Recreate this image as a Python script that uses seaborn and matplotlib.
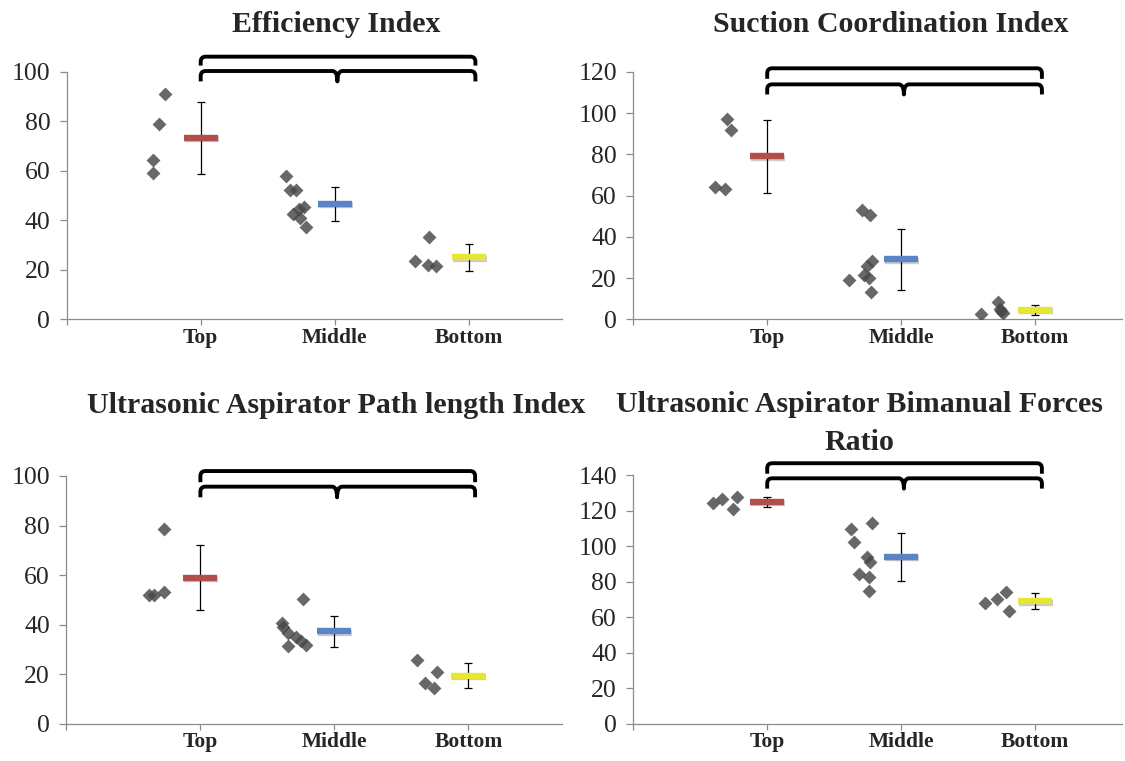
import numpy as np
import pandas as pd
import matplotlib
matplotlib.use("Agg")
import matplotlib.pyplot as plt
import matplotlib.transforms as mtransforms
from matplotlib.path import Path
from matplotlib.patches import PathPatch
import seaborn as sns

# ---------------- data ----------------
categories = ["Top", "Middle", "Bottom"]
cat_pos = [1, 2, 3]
mean_colors = ["#b04f4b", "#5b84c4", "#e6e633"]

titles = ["Efficiency Index", "Suction Coordination Index",
          "Ultrasonic Aspirator Path length Index",
          "Ultrasonic Aspirator Bimanual Forces\nRatio"]

# Efficiency Index
eff_top_x = [0.734, 0.686, 0.646, 0.641]
eff_top_y = [91.0, 79.1, 64.3, 59.2]
eff_mid_x = [1.633, 1.665, 1.713, 1.772, 1.735, 1.692, 1.740, 1.788]
eff_mid_y = [57.8, 52.3, 52.2, 45.3, 44.7, 42.6, 41.1, 37.5]
eff_bot_x = [2.706, 2.602, 2.693, 2.754]
eff_bot_y = [33.2, 23.5, 22.0, 21.6]

# Suction Coordination Index
suc_top_x = [0.698, 0.733, 0.611, 0.687]
suc_top_y = [97.0, 91.7, 64.4, 63.1]
suc_mid_x = [1.710, 1.769, 1.783, 1.748, 1.724, 1.756, 1.608, 1.777]
suc_mid_y = [53.0, 50.8, 28.5, 25.9, 21.3, 20.2, 19.1, 13.4]
suc_bot_x = [2.596, 2.725, 2.737, 2.745, 2.757]
suc_bot_y = [2.4, 8.6, 5.0, 3.8, 3.0]

# Ultrasonic Aspirator Path length Index
pth_top_x = [0.730, 0.618, 0.655, 0.730]
pth_top_y = [78.5, 51.8, 51.8, 53.3]
pth_mid_x = [1.764, 1.609, 1.617, 1.657, 1.716, 1.651, 1.751, 1.791]
pth_mid_y = [50.5, 40.5, 38.9, 36.5, 34.9, 31.4, 33.2, 31.9]
pth_bot_x = [2.614, 2.768, 2.675, 2.742]
pth_bot_y = [25.7, 21.0, 16.3, 14.3]

# Ultrasonic Aspirator Bimanual Forces Ratio
bim_top_x = [0.593, 0.660, 0.773, 0.746]
bim_top_y = [124.6, 126.9, 127.6, 120.8]
bim_mid_x = [1.629, 1.648, 1.783, 1.743, 1.764, 1.683, 1.756, 1.756]
bim_mid_y = [109.6, 102.6, 113.3, 94.2, 91.0, 84.2, 82.9, 75.0]
bim_bot_x = [2.626, 2.712, 2.779, 2.801]
bim_bot_y = [67.8, 70.3, 74.4, 63.7]

y_max = [100, 120, 100, 140]

panel_data = [
    [(eff_top_x, eff_top_y), (eff_mid_x, eff_mid_y), (eff_bot_x, eff_bot_y)],
    [(suc_top_x, suc_top_y), (suc_mid_x, suc_mid_y), (suc_bot_x, suc_bot_y)],
    [(pth_top_x, pth_top_y), (pth_mid_x, pth_mid_y), (pth_bot_x, pth_bot_y)],
    [(bim_top_x, bim_top_y), (bim_mid_x, bim_mid_y), (bim_bot_x, bim_bot_y)],
]

# ---------------- layout (pixels) ----------------
W, H = 1125, 761
DPI = 100
# left px, x-range, y0 px, ytop px
layout = [
    (66.7, 3.70, 319.3, 72.0),
    (633.2, 3.65, 319.3, 72.0),
    (66.4, 3.70, 723.7, 476.0),
    (633.2, 3.65, 723.7, 475.3),
]
PX_PER_CAT = 134.0
title_pos = [(336, [31.7]), (891, [31.7]), (336, [413.0]), (859, [411.7, 450.0])]
# significance braces: (y_line_upper, y_end_upper, y_line_lower, y_end_lower)
braces = [
    (106.2, 102.6, 100.4, 96.2),
    (121.8, 116.7, 114.0, 109.1),
    (102.0, 97.5, 95.7, 91.4),
    (146.8, 140.9, 138.3, 132.5),
]

sns.set_style("white")
plt.rcParams["font.family"] = ["Liberation Serif", "DejaVu Serif"]

fig = plt.figure(figsize=(W / DPI, H / DPI), dpi=DPI)


def draw_brace(ax, x0, x1, y_line, y_end, xm=None, lw=2.8):
    pos = ax.get_position()
    xr = ax.get_xlim()
    yr = ax.get_ylim()
    ppx = pos.width * W / (xr[1] - xr[0])
    ppy = pos.height * H / (yr[1] - yr[0])
    rxc, ryc = 5 / ppx, 5 / ppy
    rxn = 5 / ppx
    verts = [(x0, y_end), (x0, y_line - ryc), (x0, y_line), (x0 + rxc, y_line)]
    codes = [Path.MOVETO, Path.LINETO, Path.CURVE3, Path.CURVE3]
    if xm is not None:
        verts += [(xm - rxn, y_line), (xm, y_line), (xm, y_end),
                  (xm, y_line), (xm + rxn, y_line)]
        codes += [Path.LINETO, Path.CURVE3, Path.CURVE3, Path.CURVE3, Path.CURVE3]
    verts += [(x1 - rxc, y_line), (x1, y_line), (x1, y_line - ryc), (x1, y_end)]
    codes += [Path.LINETO, Path.CURVE3, Path.CURVE3, Path.LINETO]
    patch = PathPatch(Path(verts, codes), fill=False, lw=lw, edgecolor="black",
                      capstyle="butt", joinstyle="round", clip_on=False, zorder=6)
    ax.add_patch(patch)


for i in range(4):
    left, xrange_, y0, ytop = layout[i]
    ax = fig.add_axes([left / W, 1 - y0 / H, xrange_ * PX_PER_CAT / W, (y0 - ytop) / H])
    ax.set_xlim(0, xrange_)
    ax.set_ylim(0, y_max[i])

    # individual points
    for (xs, ys) in panel_data[i]:
        df = pd.DataFrame({"x": xs, "y": ys})
        sns.scatterplot(data=df, x="x", y="y", ax=ax, marker="D", s=50,
                        color="#474747", alpha=0.82, linewidth=0, zorder=3,
                        legend=False)

    # mean +/- SD
    for j, (xs, ys) in enumerate(panel_data[i]):
        m = float(np.mean(ys))
        sd = float(np.std(ys, ddof=1))
        ax.errorbar([cat_pos[j]], [m], yerr=[sd], fmt="none", ecolor="black",
                    elinewidth=0.9, capsize=2.6, capthick=0.9, zorder=4)
        shadow = mtransforms.offset_copy(ax.transData, fig=fig, x=1.0, y=-1.5, units="dots")
        ax.plot([cat_pos[j]], [m], marker="_", ms=24, mew=4.6, color="#000000",
                alpha=0.2, transform=shadow, zorder=4)
        ax.plot([cat_pos[j]], [m], marker="_", ms=24, mew=4.6,
                color=mean_colors[j], zorder=5)

    # axes styling
    for s in ["top", "right"]:
        ax.spines[s].set_visible(False)
    for s in ["left", "bottom"]:
        ax.spines[s].set_color("#8c8c8c")
        ax.spines[s].set_linewidth(0.9)
    ax.set_yticks(np.arange(0, y_max[i] + 1, 20))
    ax.set_yticklabels([str(v) for v in np.arange(0, y_max[i] + 1, 20)])
    ax.set_xticks([0] + cat_pos)
    ax.set_xticklabels([""] + categories)
    ax.tick_params(axis="y", direction="out", length=5.3, width=0.9, color="#8c8c8c",
                   labelsize=18.5, pad=6.5, left=True)
    ax.tick_params(axis="x", direction="out", length=4.5, width=0.9, color="#8c8c8c",
                   labelsize=15.5, pad=1.5, bottom=True)
    for lab in ax.get_xticklabels():
        lab.set_fontweight("bold")
    ax.set_xlabel("")
    ax.set_ylabel("")
    ax.grid(False)

    # braces
    yu, yue, yl, yle = braces[i]
    draw_brace(ax, 1.0, 3.05, yu, yue)
    draw_brace(ax, 1.0, 3.05, yl, yle, xm=2.02)

    # title
    tx, tys = title_pos[i]
    for k, line in enumerate(titles[i].split("\n")):
        fig.text(tx / W, 1 - tys[k] / H, line, ha="center", va="baseline",
                 fontsize=21.5, fontweight="bold")

fig.savefig("out.png", dpi=DPI)
